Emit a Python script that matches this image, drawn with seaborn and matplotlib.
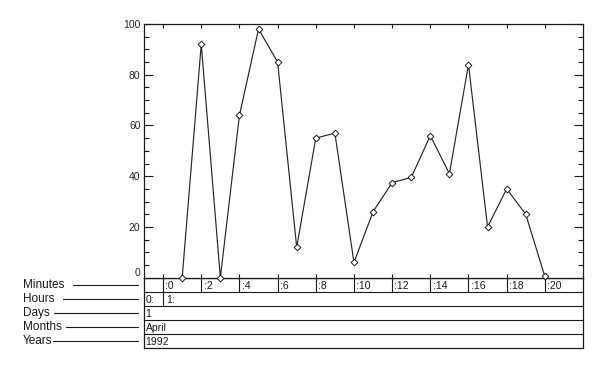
import matplotlib
matplotlib.use('Agg')
import matplotlib.pyplot as plt
import matplotlib.transforms as mtransforms
from matplotlib.lines import Line2D
import seaborn as sns
import pandas as pd

# ---- data ----
minutes = [1, 2, 3, 4, 5, 6, 7, 8, 9, 10, 11, 12, 13, 14, 15, 16, 17, 18, 19, 20]
values = [0, 92, 0, 64, 98, 85, 12, 55, 57, 6, 26, 37.5, 39.5, 56, 41, 84, 20, 35, 25, 0.5]
minute_ticks = [0, 2, 4, 6, 8, 10, 12, 14, 16, 18, 20]
minute_labels = [':0', ':2', ':4', ':6', ':8', ':10', ':12', ':14', ':16', ':18', ':20']
y_ticks = [0, 20, 40, 60, 80, 100]
y_labels = ['0', '20', '40', '60', '80', '100']
row_names = ['Minutes', 'Hours', 'Days', 'Months', 'Years']
hour_starts = [-1, 0]
hour_labels = ['0:', '1:']
day_label = '1'
month_label = 'April'
year_label = '1992'

df = pd.DataFrame({'minute': minutes, 'value': values})

sns.set_style('ticks')
plt.rcParams['font.family'] = ['Liberation Sans', 'DejaVu Sans']

W, H = 609, 372
fig = plt.figure(figsize=(W / 100, H / 100), dpi=100)

L, R = 144, 583
T, B = 24, 277.7
RB = 347.7
ax = fig.add_axes([L / W, 1 - B / H, (R - L) / W, (B - T) / H])
ax2 = fig.add_axes([L / W, 1 - RB / H, (R - L) / W, (RB - B) / H])
ax.set_zorder(3)

ink = '#1a1a1a'
sns.lineplot(data=df, x='minute', y='value', ax=ax, color='#262626', lw=0.85,
             marker='D', markersize=3.4, markerfacecolor='white',
             markeredgecolor=ink, markeredgewidth=0.7, clip_on=False, zorder=5)

ax.set_xlim(-1, 22)
ax.set_ylim(0, 100)
ax.set_xlabel('')
ax.set_ylabel('')
ax.set_xticks(minute_ticks)
ax.set_xticklabels([])
ax.set_yticks(y_ticks, labels=y_labels)
ax.set_yticks(range(0, 101, 5), minor=True)
ax.tick_params(axis='x', which='both', direction='in', top=True, bottom=True,
               length=3, width=0.8, color=ink, labelbottom=False)
ax.tick_params(axis='y', which='major', direction='in', left=True, right=True,
               length=6.7, width=0.8, color=ink, labelsize=7.5, pad=2.5)
ax.tick_params(axis='y', which='minor', direction='in', left=True, right=True,
               length=3.6, width=0.8, color=ink)
ax.get_yticklabels()[0].set_va('bottom')
for s in ax.spines.values():
    s.set_visible(True)
    s.set_linewidth(0.9)
    s.set_color(ink)

# ---- date rows ----
ax2.set_xlim(-1, 22)
ax2.set_ylim(5, 0)
ax2.set_xticks([])
ax2.set_yticks([])
for s in ax2.spines.values():
    s.set_visible(True)
    s.set_linewidth(0.9)
    s.set_color(ink)
for r in range(1, 5):
    ax2.axhline(r, color=ink, lw=0.8)

for m, lab in zip(minute_ticks, minute_labels):
    top = -0.35 if m == 0 else -0.1
    bot = 2 if m == 0 else 1
    ax2.vlines(m, top, bot, color=ink, lw=0.8, clip_on=False)
    ax2.text(m + 0.12, 0.93, lab, fontsize=7.5, va='bottom', ha='left', color=ink)

for hs, lab in zip(hour_starts, hour_labels):
    ax2.text(hs + (0.08 if hs < 0 else 0.14), 1.93, lab, fontsize=7.5,
             va='bottom', ha='left', color=ink)
ax2.text(-0.92, 2.93, day_label, fontsize=7.5, va='bottom', ha='left', color=ink)
ax2.text(-0.92, 3.93, month_label, fontsize=7.5, va='bottom', ha='left', color=ink)
ax2.text(-0.92, 4.93, year_label, fontsize=7.5, va='bottom', ha='left', color=ink)

# ---- row names with leader lines ----
blend = mtransforms.blended_transform_factory(fig.transFigure, ax2.transData)
line_starts = [73, 63, 54, 66, 53]
for i, (name, x0) in enumerate(zip(row_names, line_starts)):
    yc = i + 0.5
    fig.text(22.5 / W, yc, name, transform=blend, fontsize=8.5,
             va='center', ha='left', color=ink)
    fig.add_artist(Line2D([x0 / W, 138 / W], [yc, yc], transform=blend,
                          color=ink, lw=0.8))

fig.savefig('out.png', dpi=100)
